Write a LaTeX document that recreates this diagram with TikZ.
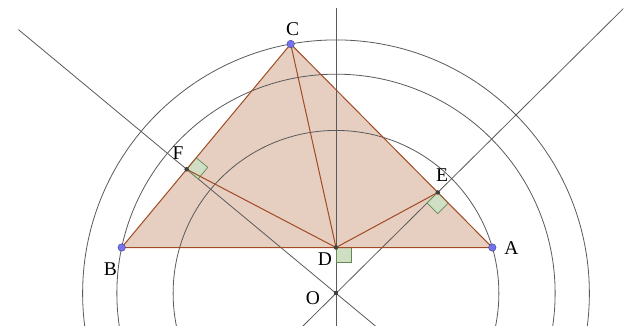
\documentclass[tikz,border=0pt]{standalone}
\usepackage{fontspec}
\setmainfont{Liberation Serif}
\usetikzlibrary{calc}
\definecolor{trifill}{RGB}{230,206,193}
\definecolor{triedge}{RGB}{160,75,35}
\definecolor{linegray}{RGB}{90,90,90}
\definecolor{ptblue}{RGB}{115,115,240}
\definecolor{ptedge}{RGB}{60,60,140}
\definecolor{angfill}{RGB}{208,222,195}
\definecolor{angedge}{RGB}{95,140,85}
\newcommand\rangmark[4]{%
  \coordinate (#4a) at ($(#1)!15pt!(#2)$);
  \coordinate (#4b) at ($(#1)!15pt!(#3)$);
  \coordinate (#4c) at ($(#4a)+(#4b)-(#1)$);
  \draw[angmark] (#1) -- (#4a) -- (#4c) -- (#4b) -- cycle;}
\begin{document}
\begin{tikzpicture}[x=1pt,y=-1pt,
  gline/.style={draw=linegray,line width=0.8pt},
  tedge/.style={draw=triedge,line width=1pt},
  angmark/.style={draw=angedge,fill=angfill,line width=0.7pt},
  freept/.style={circle,fill=ptblue,draw=ptedge,line width=0.4pt,inner sep=0pt,minimum size=7.5pt},
  deppt/.style={circle,fill=black!75,inner sep=0pt,minimum size=4.5pt},
  lbl/.style={font=\fontsize{19.5}{22}\selectfont,inner sep=0pt}]
\useasboundingbox (0,0) rectangle (633,325);
\clip (0,0) rectangle (633,325);
\coordinate (O) at (336,293.3);
\coordinate (A) at (492.3,247.5);
\coordinate (B) at (121.7,247.5);
\coordinate (C) at (290.7,44);
\coordinate (D) at (336,247.5);
\coordinate (E) at ($(C)!(O)!(A)$);
\coordinate (F) at ($(B)!(O)!(C)$);
% triangle fill
\fill[trifill] (A) -- (B) -- (C) -- cycle;
% circles
\draw[gline] let \p1=($(A)-(O)$), \n1={veclen(\x1,\y1)} in (O) circle[radius=\n1];
\draw[gline] let \p1=($(B)-(O)$), \n1={veclen(\x1,\y1)} in (O) circle[radius=\n1];
\draw[gline] let \p1=($(C)-(O)$), \n1={veclen(\x1,\y1)} in (O) circle[radius=\n1];
% lines
\coordinate (v1) at (336,8);
\coordinate (v2) at (336,340);
\draw[gline] (v1) -- (v2);
\coordinate (f1) at ($(O)!2.126!(F)$);
\coordinate (f2) at ($(O)!-0.5!(F)$);
\draw[gline] (f1) -- (f2);
\coordinate (e1) at ($(O)!2.823!(E)$);
\coordinate (e2) at ($(O)!-0.5!(E)$);
\draw[gline] (e1) -- (e2);
% right angle marks
\rangmark{F}{C}{O}{rf}
\rangmark{E}{A}{O}{re}
\rangmark{D}{A}{O}{rd}
% triangle edges and segments
\draw[tedge] (A) -- (B) -- (C) -- cycle;
\draw[tedge] (D) -- (C);
\draw[tedge] (D) -- (E);
\draw[tedge] (D) -- (F);
% points
\node[freept] (pA) at (A) {};
\node[freept] (pB) at (B) {};
\node[freept] (pC) at (C) {};
\node[deppt] (pD) at (D) {};
\node[deppt] (pE) at (E) {};
\node[deppt] (pF) at (F) {};
\node[deppt,rectangle,minimum size=4pt] (pO) at (O) {};
% labels
\node[lbl] (lC) at (292.7,29.5) {C};
\node[lbl] (lB) at (110.5,269) {B};
\node[lbl] (lA) at (511.5,248.5) {A};
\node[lbl] (lD) at (325,259.5) {D};
\node[lbl] (lE) at (442,175.5) {E};
\node[lbl] (lF) at (178,153.5) {F};
\node[lbl] (lO) at (313,298.5) {O};
\end{tikzpicture}
\end{document}
